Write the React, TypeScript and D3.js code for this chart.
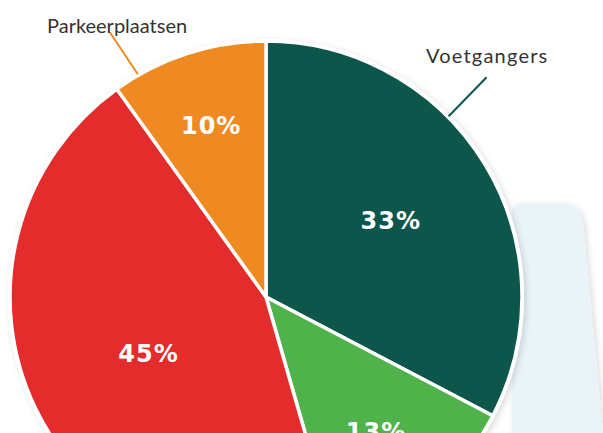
import React from "react";
import * as d3 from "d3";

const categories = ["Voetgangers", "Fietsers", "Auto's", "Parkeerplaatsen"];
const values = [33, 13, 45, 10];
const valueLabels = ["33%", "13%", "45%", "10%"];
const colors = ["#0d564c", "#4fb24a", "#e32c2b", "#ef8a22"];
const labelRadius = [0.57, 0.68, 0.51, 0.7];

const W = 603;
const H = 433;
const cx = 266;
const cy = 297;
const R = 256;

export default function App() {
  const pie = d3
    .pie<number>()
    .sort(null)
    .value((d) => d);
  const arcs = pie(values);
  const arc = d3.arc<d3.PieArcDatum<number>>().innerRadius(0).outerRadius(R);

  const pt = (a: number, r: number) => [Math.sin(a) * r, -Math.cos(a) * r];

  const park = arcs[3];
  const voet = arcs[0];
  const pA = park.startAngle + 0.1;
  const vA = voet.startAngle + (voet.endAngle - voet.startAngle) * 0.385;
  const [px, py] = pt(pA, R + 1);
  const [vx, vy] = pt(vA, R + 1);

  return (
    <svg
      width={W}
      height={H}
      style={{ position: "absolute", left: 0, top: 0, background: "#fff" }}
    >
      <defs>
        <filter id="sh" x="-20%" y="-20%" width="140%" height="140%">
          <feDropShadow dx="2" dy="2" stdDeviation="3" floodColor="#000" floodOpacity="0.15" />
        </filter>
      </defs>
      <path
        d="M512,213 Q512,203 524,203 L562,203 Q580,203 583,222 L603,433 L512,433 Z"
        fill="#e9f3f8"
        filter="url(#sh)"
      />
      <g transform={`translate(${cx},${cy})`}>
        <circle r={R + 2} fill="#fff" filter="url(#sh)" />
        {arcs.map((a, i) => (
          <path
            key={categories[i]}
            d={arc(a) || ""}
            fill={colors[i]}
            stroke="#fff"
            strokeWidth={3.5}
            strokeLinejoin="round"
          />
        ))}
        {arcs.map((a, i) => {
          const m = (a.startAngle + a.endAngle) / 2;
          const [x, y] = pt(m, R * labelRadius[i]);
          return (
            <text
              key={"l" + i}
              x={x}
              y={y}
              textAnchor="middle"
              dominantBaseline="central"
              fill="#fff"
              fontFamily="'DejaVu Sans', sans-serif"
              fontWeight="bold"
              fontSize={24}
              letterSpacing={1}
            >
              {valueLabels[i]}
            </text>
          );
        })}
        <line x1={px} y1={py} x2={px - 28} y2={py - 42} stroke={colors[3]} strokeWidth={2} />
        <line x1={vx} y1={vy} x2={vx + 38} y2={vy - 39} stroke={colors[0]} strokeWidth={2} />
      </g>
      <text x={47} y={33} fontFamily="Lato, sans-serif" fontSize={20} fill="#333">
        {categories[3]}
      </text>
      <text
        x={426}
        y={63}
        fontFamily="Lato, sans-serif"
        fontSize={20}
        letterSpacing={1.2}
        fill="#333"
      >
        {categories[0]}
      </text>
    </svg>
  );
}
